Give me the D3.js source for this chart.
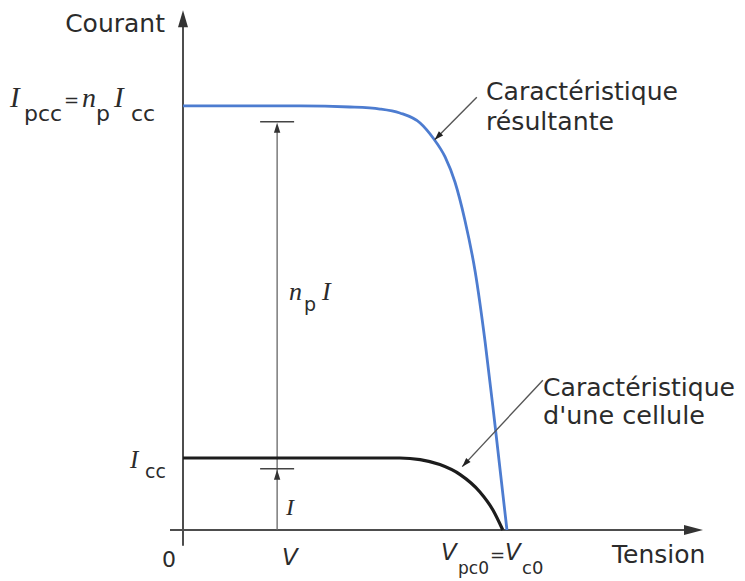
<!DOCTYPE html>
<html>
<head>
<meta charset="utf-8">
<script src="https://cdn.jsdelivr.net/npm/d3@7"></script>
<style>
  html, body { margin: 0; padding: 0; background: #fff; }
  svg { display: block; }
  .lbl { font-family: "DejaVu Sans", sans-serif; fill: #2b2b2b; }
  .math { font-family: "Liberation Serif", serif; font-style: italic; fill: #2b2b2b; }
  .obl { font-family: "DejaVu Sans", sans-serif; font-style: oblique; fill: #2b2b2b; }
</style>
</head>
<body>
<div id="chart"></div>
<script>
var width = 745,
	height = 581;

// caractéristique résultante (n_p cellules en parallèle)
var tensionResultante = [0, 0.225, 0.321, 0.379, 0.417, 0.456, 0.481, 0.504, 0.523, 0.542, 0.562, 0.581, 0.600, 0.623];
var courantResultante = [5.89, 5.89, 5.875, 5.847, 5.792, 5.653, 5.444, 5.181, 4.833, 4.306, 3.583, 2.611, 1.458, 0];

// caractéristique d'une cellule
var tensionCellule = [0, 0.225, 0.417, 0.456, 0.494, 0.533, 0.571, 0.596, 0.615];
var courantCellule = [1, 1, 1, 0.978, 0.908, 0.769, 0.528, 0.278, 0];

// points repères
var Icc = 1, Ipcc = 5.89, Vpc0 = 0.623;
var Vpoint = 0.181, Ipoint = 0.85, npIpoint = 5.67;

var x = d3.scaleLinear().domain([0, 1]).range([183, 703]);
var y = d3.scaleLinear().domain([0, 7.25]).range([530, 8]);

var svg = d3.select("#chart").append("svg")
	.attr("width", width)
	.attr("height", height)
	.style("background-color", "#fff");

function head(tx, ty, angle, len, half, color){
	// filled triangle, tip at (tx,ty)
	var c = Math.cos(angle), s = Math.sin(angle);
	var bx = tx - c*len, by = ty - s*len;
	var p = [[tx, ty], [bx - s*half, by + c*half], [bx + s*half, by - c*half]];
	svg.append("path")
		.attr("d", "M" + p.map(function(d){ return d.join(","); }).join("L") + "Z")
		.attr("fill", color);
}

// axes
svg.append("line")
	.attr("x1", x(0)).attr("x2", x(0))
	.attr("y1", y(-0.22)).attr("y2", y(7.0))
	.attr("stroke", "#4d4d4d").attr("stroke-width", 2);
head(x(0), y(7.22), -Math.PI/2, 17, 5, "#333");

svg.append("line")
	.attr("x1", x(-0.025)).attr("x2", x(0.97))
	.attr("y1", y(0)).attr("y2", y(0))
	.attr("stroke", "#4d4d4d").attr("stroke-width", 2);
head(x(1), y(0), 0, 19, 5, "#333");

// dimension line n_p I / I
svg.append("line")
	.attr("x1", x(Vpoint)).attr("x2", x(Vpoint))
	.attr("y1", y(0)).attr("y2", y(npIpoint) + 4)
	.attr("stroke", "#666").attr("stroke-width", 1.3);
[Ipoint, npIpoint].forEach(function(v){
	svg.append("line")
		.attr("x1", x(Vpoint) - 17).attr("x2", x(Vpoint) + 17)
		.attr("y1", y(v)).attr("y2", y(v))
		.attr("stroke", "#444").attr("stroke-width", 1.6);
	head(x(Vpoint), y(v) + 1, -Math.PI/2, 10, 3.2, "#333");
});

// curves
var line = d3.line()
	.x(function(d){ return x(d[0]); })
	.y(function(d){ return y(d[1]); })
	.curve(d3.curveMonotoneX);

svg.append("path")
	.datum(d3.zip(tensionCellule, courantCellule))
	.attr("d", line)
	.attr("fill", "none")
	.attr("stroke", "#1c1c1c")
	.attr("stroke-width", 3.2);

svg.append("path")
	.datum(d3.zip(tensionResultante, courantResultante))
	.attr("d", line)
	.attr("fill", "none")
	.attr("stroke", "#4d7cd0")
	.attr("stroke-width", 2.8);

// annotation arrows
function pointer(x1, y1, x2, y2){
	svg.append("line")
		.attr("x1", x1).attr("y1", y1).attr("x2", x2).attr("y2", y2)
		.attr("stroke", "#555").attr("stroke-width", 1.4);
	head(x2, y2, Math.atan2(y2 - y1, x2 - x1), 9, 3, "#222");
}
pointer(x(0.565), y(6.01), x(0.484), y(5.42));
pointer(x(0.692), y(2.08), x(0.537), y(0.88));

// texts
function txt(cls, s, px, py, size, anchor, len){
	var t = svg.append("text")
		.attr("class", cls)
		.attr("x", px).attr("y", py)
		.attr("font-size", size)
		.attr("text-anchor", anchor || "start")
		.text(s);
	if(len){
		t.attr("textLength", len).attr("lengthAdjust", "spacingAndGlyphs");
	}
	return t;
}

txt("lbl", "Courant", 165, 32, 25, "end");
txt("lbl", "Tension", 612, 563, 25);
txt("lbl", "0", 169, 567, 22, "middle");

txt("lbl", "Caractéristique", 486, 100, 24, "start", 192);
txt("lbl", "résultante", 486, 130, 24, "start", 128);
txt("lbl", "Caractéristique", 543, 396, 24, "start", 192);
txt("lbl", "d'une cellule", 543, 424, 24, "start", 162);

// I_pcc = n_p I_cc
txt("math", "I", 10, 107, 29);
txt("lbl", "pcc", 24, 121, 22);
txt("lbl", "=", 64, 106, 18);
txt("math", "n", 82, 107, 28);
txt("lbl", "p", 96, 121, 22);
txt("math", "I", 114, 107, 29);
txt("lbl", "cc", 131, 121, 22);

// I_cc
txt("math", "I", 130, 468, 25);
txt("lbl", "cc", 145, 478, 19);

// n_p I
txt("math", "n", 289, 300, 26);
txt("lbl", "p", 304, 311, 19);
txt("math", "I", 322, 300, 26);

// I
txt("math", "I", 286, 515, 24);

// V
txt("obl", "V", 282, 565, 23);

// V_pc0 = V_c0
txt("obl", "V", 441, 560, 23);
txt("lbl", "pc0", 458, 574, 17);
txt("lbl", "=", 490, 561, 18);
txt("obl", "V", 505, 560, 23);
txt("lbl", "c0", 522, 574, 18);
</script>
</body>
</html>
